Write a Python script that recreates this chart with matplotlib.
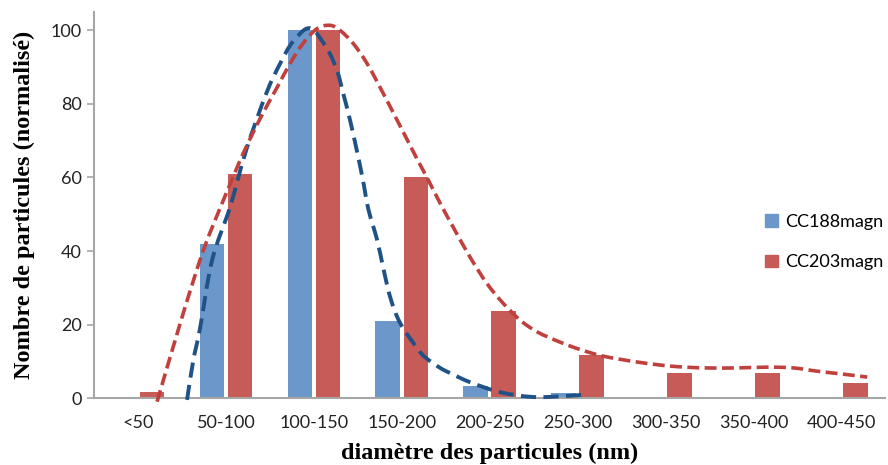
import matplotlib.pyplot as plt
import numpy as np
from matplotlib.path import Path
from matplotlib.patches import PathPatch, Patch

# categories / bar values
categories = ['<50', '50-100', '100-150', '150-200', '200-250', '250-300',
              '300-350', '350-400', '400-450']
cc188 = [0, 42, 100, 21, 3.2, 1.5, 0.4, 0, 0.4]
cc203 = [1.7, 61, 100, 60, 23.6, 11.8, 6.8, 6.8, 4.2]

# smoothed dashed curves (x in category units)
blue_x = [0.557, 0.626, 0.705, 0.842, 1.047, 1.229, 1.457, 1.616, 1.763, 1.957,
          2.150, 2.264, 2.332, 2.412, 2.491, 2.560, 2.617, 2.719, 2.787, 2.867,
          2.981, 3.174, 3.265, 3.436, 3.549, 3.777, 4.118, 4.482, 4.835, 5.108]
blue_y = [-0.5, 10, 19, 37.5, 52, 67.4, 82.8, 91, 97, 100.6,
          95, 89, 83, 75.5, 67, 59, 51.6, 43, 35.6, 27.5,
          20.4, 13.6, 11.1, 8.2, 6.8, 4.3, 1.6, 0.3, 0.5, 1.0]

red_x = [0.216, 0.50, 0.74, 0.956, 1.195, 1.388, 1.581, 1.729, 1.877, 2.036,
         2.184, 2.298, 2.446, 2.605, 2.753, 2.981, 3.174, 3.284, 3.436, 3.584,
         3.777, 3.967, 4.152, 4.346, 4.539, 4.801, 5.028, 5.290, 5.677, 6.052,
         6.428, 6.815, 7.156, 7.452, 7.725, 8.020, 8.294]
red_y = [-1, 22, 40, 53, 66.5, 76, 84.5, 91, 96.5, 100.5,
         101.4, 100, 96.5, 91, 84.5, 74, 65, 60.1, 53, 46.5,
         38.3, 31.2, 25.8, 21.2, 18, 15.2, 13.2, 11.4, 9.8, 8.7,
         8.2, 8.2, 8.4, 8.2, 7.3, 6.5, 5.7]

BLUE_BAR = '#6b97ca'
RED_BAR = '#c65b58'
BLUE_LINE = '#1f5286'
RED_LINE = '#c0403d'


def smooth_path(xs, ys):
    """Catmull-Rom style bezier through the points (like excel smooth line)"""
    pts = np.column_stack([xs, ys])
    verts = [pts[0]]
    codes = [Path.MOVETO]
    n = len(pts)
    for i in range(n - 1):
        p0 = pts[i - 1] if i > 0 else pts[i]
        p1 = pts[i]
        p2 = pts[i + 1]
        p3 = pts[i + 2] if i + 2 < n else pts[i + 1]
        c1 = p1 + (p2 - p0) / 6.0
        c2 = p2 - (p3 - p1) / 6.0
        verts += [c1, c2, p2]
        codes += [Path.CURVE4] * 3
    return Path(verts, codes)


fig = plt.figure(figsize=(8.88, 4.65), dpi=100)
ax = fig.add_axes([0.106, 0.144, 0.891, 0.830])

x = np.arange(len(categories))
w = 0.28
ax.bar(x - 0.16, cc188, w, color=BLUE_BAR, label='CC188magn', zorder=2)
ax.bar(x + 0.16, cc203, w, color=RED_BAR, label='CC203magn', zorder=2)

ax.add_patch(PathPatch(smooth_path(blue_x, blue_y), fill=False, edgecolor=BLUE_LINE,
                       lw=2.8, linestyle=(0, (3.9, 1.9)), zorder=3, clip_on=False))
ax.add_patch(PathPatch(smooth_path(red_x, red_y), fill=False, edgecolor=RED_LINE,
                       lw=2.6, linestyle=(0, (3.3, 1.5)), zorder=4, clip_on=False))

ax.set_xlim(-0.5, len(categories) - 0.5)
ax.set_ylim(0, 105)
ax.set_yticks([0, 20, 40, 60, 80, 100])
ax.set_xticks(x)
ax.set_xticklabels(categories)

for s in ['top', 'right']:
    ax.spines[s].set_visible(False)
for s in ['left', 'bottom']:
    ax.spines[s].set_color('#a6a6a6')
    ax.spines[s].set_linewidth(1.5)
ax.tick_params(axis='y', length=5, width=1.2, color='#a6a6a6', labelsize=13,
               labelcolor='#222222', pad=4)
ax.tick_params(axis='x', length=0, labelsize=13, labelcolor='#222222', pad=12)
for lab in ax.get_xticklabels() + ax.get_yticklabels():
    lab.set_family('Lato')

ax.set_xlabel('diamètre des particules (nm)', family='Liberation Serif',
              fontweight='bold', fontsize=17.5, labelpad=9)
ax.set_ylabel('Nombre de particules (normalisé)', family='Liberation Serif',
              fontweight='bold', fontsize=17.5, labelpad=11)

handles = [Patch(color=BLUE_BAR, label='CC188magn'), Patch(color=RED_BAR, label='CC203magn')]
ax.legend(handles=handles, loc='center left', bbox_to_anchor=(0.837, 0.404),
          frameon=False, prop={'family': 'Lato', 'size': 13},
          handlelength=0.7, handleheight=0.7, handletextpad=0.4, labelspacing=1.35,
          borderpad=0)

fig.savefig('out.png', dpi=100)
